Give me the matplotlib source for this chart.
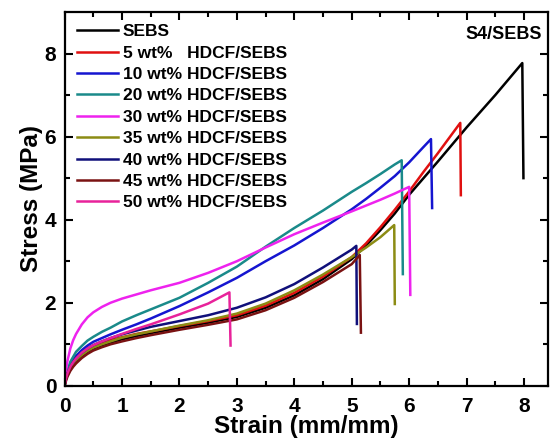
import numpy as np
import matplotlib.pyplot as plt

plt.rcParams['font.family'] = ['Liberation Sans', 'DejaVu Sans']
plt.rcParams['font.weight'] = 'bold'

# shared strain grid (mm/mm); each curve uses the first part up to its break
strain_grid = [0, 0.02, 0.05, 0.1, 0.15, 0.2, 0.3, 0.4, 0.5, 0.65, 0.8,
               1.0, 1.25, 1.5, 2.0, 2.5, 3.0, 3.5, 4.0, 4.5,
               5.0, 5.25, 5.5, 5.75, 6.0, 6.25, 6.5, 7.0, 7.5]

labels = ['SEBS', '5 wt%   HDCF/SEBS', '10 wt% HDCF/SEBS', '20 wt% HDCF/SEBS',
          '30 wt% HDCF/SEBS', '35 wt% HDCF/SEBS', '40 wt% HDCF/SEBS',
          '45 wt% HDCF/SEBS', '50 wt% HDCF/SEBS']
colors = ['#000000', '#e01010', '#1515d0', '#1a8a8a', '#ee22ee',
          '#8c8c14', '#10107a', '#7a1212', '#e8229a']

stress_sebs = [0, 0.15, 0.28, 0.42, 0.52, 0.6, 0.72, 0.82, 0.9, 0.98, 1.04,
               1.12, 1.2, 1.27, 1.4, 1.52, 1.66, 1.88, 2.18, 2.57,
               3.05, 3.38, 3.75, 4.15, 4.6, 5.0, 5.4, 6.22, 7.0]
stress_5 = [0, 0.17, 0.3, 0.45, 0.55, 0.64, 0.76, 0.87, 0.95, 1.03, 1.1,
            1.17, 1.25, 1.31, 1.44, 1.56, 1.7, 1.93, 2.24, 2.63,
            3.1, 3.43, 3.82, 4.24, 4.68, 5.15, 5.6]
stress_10 = [0, 0.18, 0.33, 0.5, 0.62, 0.72, 0.86, 0.97, 1.06, 1.15, 1.24,
             1.35, 1.48, 1.62, 1.92, 2.25, 2.6, 3.0, 3.38, 3.8,
             4.25, 4.5, 4.77, 5.05, 5.38, 5.75]
stress_20 = [0, 0.2, 0.36, 0.58, 0.7, 0.82, 0.96, 1.09, 1.18, 1.3, 1.4,
             1.55, 1.7, 1.84, 2.12, 2.48, 2.87, 3.35, 3.8, 4.22,
             4.67, 4.88, 5.1, 5.33]
stress_30 = [0, 0.35, 0.6, 0.9, 1.1, 1.25, 1.48, 1.65, 1.77, 1.9, 2.0,
             2.1, 2.2, 2.3, 2.48, 2.72, 3.0, 3.33, 3.65, 3.93,
             4.2, 4.34, 4.48, 4.63]
stress_35 = [0, 0.15, 0.28, 0.43, 0.53, 0.62, 0.74, 0.84, 0.92, 1.0, 1.07,
             1.16, 1.24, 1.31, 1.45, 1.58, 1.74, 1.98, 2.3, 2.68,
             3.1, 3.33, 3.58]
stress_40 = [0, 0.16, 0.3, 0.46, 0.57, 0.67, 0.8, 0.9, 0.98, 1.07, 1.15,
             1.24, 1.33, 1.42, 1.56, 1.7, 1.88, 2.13, 2.45, 2.85,
             3.28]
stress_45 = [0, 0.1, 0.22, 0.36, 0.46, 0.54, 0.67, 0.77, 0.85, 0.93, 1.0,
             1.07, 1.15, 1.22, 1.35, 1.47, 1.6, 1.82, 2.12, 2.5,
             2.93]
stress_50 = [0, 0.16, 0.3, 0.46, 0.57, 0.66, 0.8, 0.9, 0.98, 1.07, 1.15,
             1.25, 1.37, 1.48, 1.72, 1.98]

# peak (break start) and end of the vertical drop for each curve
peak_strain = [7.97, 6.89, 6.38, 5.87, 6.0, 5.74, 5.08, 5.14, 2.87]
peak_stress = [7.77, 6.33, 5.94, 5.43, 4.79, 3.87, 3.37, 3.15, 2.25]
drop_strain = [7.99, 6.9, 6.4, 5.89, 6.02, 5.75, 5.09, 5.16, 2.89]
drop_stress = [5.0, 4.59, 4.28, 2.69, 2.19, 1.97, 1.49, 1.28, 0.97]

all_stress = [stress_sebs, stress_5, stress_10, stress_20, stress_30,
              stress_35, stress_40, stress_45, stress_50]

fig = plt.figure(figsize=(5.52, 4.43), dpi=100)
ax = fig.add_axes([0.117, 0.129, 0.876, 0.844])

for i in range(len(labels)):
    s = all_stress[i]
    x = list(strain_grid[:len(s)]) + [peak_strain[i], drop_strain[i]]
    y = list(s) + [peak_stress[i], drop_stress[i]]
    ax.plot(x, y, color=colors[i], lw=1.8, label=labels[i])

ax.set_xlim(0, 8.42)
ax.set_ylim(0, 9)
ax.set_xticks(range(0, 9))
ax.set_yticks([0, 2, 4, 6, 8])
ax.set_xticks(np.arange(0.5, 8.4, 1.0), minor=True)
ax.set_yticks([1, 3, 5, 7], minor=True)
ax.tick_params(which='both', direction='in', top=True, right=True, width=1.5)
ax.tick_params(which='major', length=6, labelsize=15, pad=6)
ax.tick_params(axis='x', which='major', pad=8)
ax.tick_params(which='minor', length=3.5)
for sp in ax.spines.values():
    sp.set_linewidth(1.6)
for t in ax.get_xticklabels() + ax.get_yticklabels():
    t.set_fontweight('bold')

ax.set_xlabel('Strain (mm/mm)', fontsize=17.5, fontweight='bold', labelpad=-1)
ax.set_ylabel('Stress (MPa)', fontsize=17.5, fontweight='bold', labelpad=1)

ax.text(0.987, 0.962, 'S4/SEBS', transform=ax.transAxes, ha='right', va='top',
        fontsize=13, fontweight='bold')

leg = ax.legend(loc='upper left', frameon=False, handlelength=2.4,
                handletextpad=0.25, labelspacing=0.36, borderpad=0.4,
                borderaxespad=0.3, prop={'weight': 'bold', 'size': 12.5})

fig.savefig('out.png', dpi=100)
